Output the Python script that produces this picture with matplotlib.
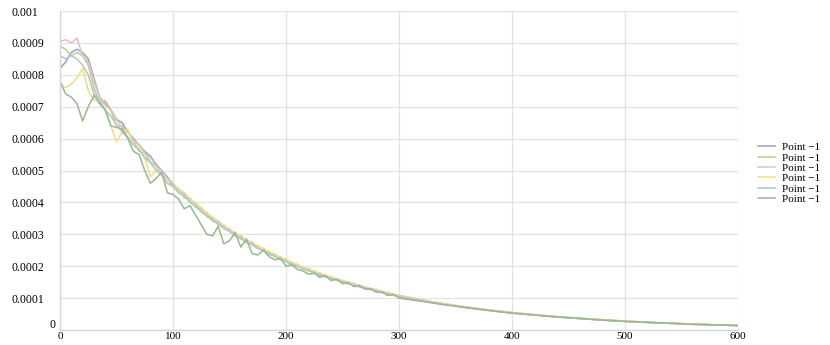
import matplotlib
matplotlib.use("Agg")
import matplotlib.pyplot as plt
import numpy as np

# x positions (shared by all series)
x_head = list(range(0, 301, 5))
x_tail = list(range(320, 601, 20))
x_vals = x_head + x_tail

# series values in units of 1e-4
s1 = [8.2, 8.4, 8.7, 8.8, 8.7, 8.5, 7.9, 7.3, 7.1, 6.9, 6.6, 6.5, 6.2, 6.0, 5.8, 5.6, 5.45, 5.2, 5.0, 4.8,
      4.55, 4.4, 4.25, 4.1, 3.9, 3.8, 3.6, 3.5, 3.35, 3.25, 3.1, 3.0, 2.9, 2.8, 2.7, 2.62, 2.5, 2.43, 2.33, 2.27,
      2.17, 2.1, 2.0, 1.96, 1.87, 1.83, 1.74, 1.7, 1.62, 1.58, 1.51, 1.48, 1.41, 1.38, 1.31, 1.29, 1.22, 1.2, 1.13, 1.11,
      1.05,
      0.93, 0.81, 0.71, 0.62, 0.54, 0.47, 0.41, 0.36, 0.32, 0.27, 0.24, 0.21, 0.18, 0.16, 0.14]
s2 = [8.9, 8.8, 8.6, 8.7, 8.6, 8.3, 7.6, 7.1, 7.2, 6.9, 6.4, 6.4, 6.0, 5.95, 5.6, 5.55, 5.25, 5.15, 4.85, 4.75,
      4.5, 4.4, 4.15, 4.1, 3.85, 3.8, 3.55, 3.5, 3.3, 3.27, 3.08, 3.03, 2.85, 2.83, 2.66, 2.63, 2.47, 2.45, 2.3, 2.28,
      2.14, 2.11, 1.99, 1.97, 1.85, 1.84, 1.72, 1.71, 1.6, 1.59, 1.5, 1.48, 1.4, 1.38, 1.3, 1.28, 1.21, 1.19, 1.12, 1.11,
      1.04,
      0.92, 0.82, 0.70, 0.62, 0.53, 0.47, 0.41, 0.37, 0.31, 0.28, 0.24, 0.21, 0.19, 0.16, 0.14]
s3 = [9.05, 9.1, 9.0, 9.15, 8.6, 8.4, 7.8, 7.3, 7.05, 6.9, 6.6, 6.35, 6.2, 5.95, 5.8, 5.55, 5.4, 5.15, 5.0, 4.75,
      4.6, 4.4, 4.3, 4.08, 3.98, 3.78, 3.68, 3.5, 3.42, 3.25, 3.17, 3.02, 2.95, 2.8, 2.75, 2.6, 2.56, 2.43, 2.38, 2.26,
      2.22, 2.1, 2.06, 1.95, 1.92, 1.82, 1.79, 1.69, 1.67, 1.58, 1.56, 1.47, 1.46, 1.37, 1.36, 1.28, 1.27, 1.19, 1.18, 1.1,
      1.09,
      0.95, 0.82, 0.72, 0.63, 0.55, 0.48, 0.42, 0.37, 0.32, 0.28, 0.24, 0.21, 0.18, 0.16, 0.14]
s4 = [7.7, 7.6, 7.7, 7.9, 8.2, 7.5, 7.2, 7.2, 6.9, 6.4, 5.9, 6.2, 6.3, 5.8, 5.7, 5.4, 4.8, 5.0, 4.9, 4.6,
      4.5, 4.45, 4.2, 4.15, 3.9, 3.85, 3.62, 3.55, 3.35, 3.3, 3.1, 3.07, 2.88, 2.85, 2.68, 2.66, 2.5, 2.47, 2.33, 2.3,
      2.17, 2.14, 2.02, 1.99, 1.88, 1.86, 1.76, 1.73, 1.64, 1.61, 1.53, 1.5, 1.42, 1.4, 1.33, 1.3, 1.24, 1.21, 1.15, 1.12,
      1.07,
      0.94, 0.82, 0.72, 0.62, 0.54, 0.48, 0.42, 0.36, 0.32, 0.28, 0.24, 0.21, 0.19, 0.16, 0.14]
s5 = [8.6, 8.5, 8.6, 8.5, 8.3, 8.0, 7.4, 7.2, 6.9, 6.7, 6.45, 6.2, 6.05, 5.8, 5.65, 5.4, 5.25, 5.0, 4.85, 4.6,
      4.5, 4.3, 4.2, 4.0, 3.88, 3.7, 3.58, 3.42, 3.33, 3.18, 3.1, 2.95, 2.88, 2.74, 2.68, 2.55, 2.49, 2.37, 2.32, 2.2,
      2.15, 2.05, 2.0, 1.91, 1.86, 1.78, 1.73, 1.66, 1.61, 1.55, 1.5, 1.44, 1.4, 1.35, 1.31, 1.26, 1.22, 1.17, 1.13, 1.09,
      1.05,
      0.92, 0.80, 0.70, 0.61, 0.53, 0.47, 0.41, 0.36, 0.31, 0.27, 0.24, 0.21, 0.18, 0.16, 0.14]
s6 = [7.8, 7.4, 7.3, 7.1, 6.55, 7.0, 7.35, 7.1, 6.9, 6.4, 6.35, 6.3, 6.0, 5.6, 5.5, 5.0, 4.6, 4.75, 4.95, 4.3,
      4.25, 4.1, 3.8, 3.9, 3.6, 3.3, 3.0, 2.95, 3.25, 2.7, 2.8, 3.05, 2.6, 2.85, 2.4, 2.35, 2.5, 2.3, 2.2, 2.25,
      2.0, 2.05, 1.9, 1.85, 1.75, 1.78, 1.65, 1.7, 1.55, 1.6, 1.45, 1.5, 1.36, 1.4, 1.28, 1.3, 1.18, 1.2, 1.08, 1.12,
      1.0,
      0.9, 0.79, 0.7, 0.61, 0.53, 0.47, 0.41, 0.36, 0.31, 0.27, 0.24, 0.21, 0.18, 0.16, 0.14]

series = [s1, s2, s3, s4, s5, s6]
series_labels = ["Point \u22121"] * 6
colors = ["#96a7c3", "#cfc78c", "#dfc3c3", "#f2df82", "#a9cacc", "#9db994"]

xticks = [0, 100, 200, 300, 400, 500, 600]
yticks = [0.0, 0.0001, 0.0002, 0.0003, 0.0004, 0.0005, 0.0006, 0.0007, 0.0008, 0.0009, 0.001]
ytick_labels = ["", "0.0001", "0.0002", "0.0003", "0.0004", "0.0005",
                "0.0006", "0.0007", "0.0008", "0.0009", "0.001"]

plt.rcParams["font.family"] = ["Liberation Serif", "DejaVu Serif"]

fig = plt.figure(figsize=(8.3, 3.45), dpi=100)
ax = fig.add_axes([60 / 830, 15 / 345, 678 / 830, 319 / 345])

xs = np.array(x_vals)
for vals, lab, c in zip(series, series_labels, colors):
    ax.plot(xs, np.array(vals) * 1e-4, color=c, lw=1.15, label=lab)

ax.set_xlim(0, 600)
ax.set_ylim(0, 0.001)
ax.set_xticks(xticks)
ax.set_xticklabels([str(v) for v in xticks], fontsize=8)
ax.set_yticks(yticks)
ax.set_yticklabels(ytick_labels, fontsize=8.5)
for lbl in ax.get_yticklabels():
    lbl.set_horizontalalignment("left")
ax.tick_params(axis="y", length=0, pad=35)
ax.tick_params(axis="x", length=0, pad=1.5)
ax.annotate("0", xy=(0, 0), xycoords=("axes fraction", "data"), xytext=(-3, -1),
            textcoords="offset points", ha="right", va="bottom", fontsize=8.5)

ax.grid(True, color="#e2e2e2", lw=0.9)
ax.set_axisbelow(True)
for side in ["top", "right"]:
    ax.spines[side].set_visible(False)
for side in ["left", "bottom"]:
    ax.spines[side].set_color("#d6d6d6")
    ax.spines[side].set_linewidth(1.0)

fig.legend(loc="upper left", bbox_to_anchor=(752 / 830, 1 - 137 / 345), frameon=False,
           fontsize=8, handlelength=1.6, handletextpad=0.6, labelspacing=0.05, borderpad=0)

fig.savefig("out.png", dpi=100)
